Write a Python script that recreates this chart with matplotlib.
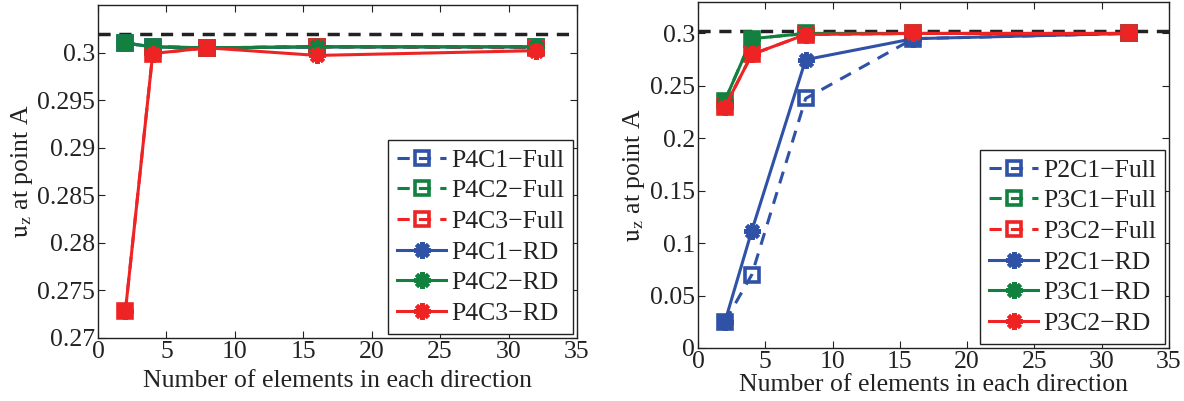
"""Convergence of u_z at point A versus mesh refinement (Full vs RD)."""

import matplotlib
matplotlib.use("Agg")
import matplotlib.pyplot as plt


# mesh sizes (number of elements in each direction)
n_elems = [2, 4, 8, 16, 32]

# reference solution
u_ref = 0.302

# left panel: P4 elements
p4c1_full = [0.3010, 0.3006, 0.3005, 0.3006, 0.3006]
p4c2_full = [0.3010, 0.3006, 0.3005, 0.3006, 0.3006]
p4c3_full = [0.2728, 0.2999, 0.3005, 0.3006, 0.3005]
p4c1_rd = [0.3010, 0.3006, 0.3005, 0.3006, 0.3006]
p4c2_rd = [0.3010, 0.3006, 0.3005, 0.3006, 0.3006]
p4c3_rd = [0.2728, 0.2999, 0.3005, 0.2997, 0.3002]

# right panel: P2/P3 elements
p2c1_full = [0.025, 0.070, 0.238, 0.295, 0.300]
p3c1_full = [0.236, 0.295, 0.300, 0.300, 0.300]
p3c2_full = [0.230, 0.280, 0.299, 0.300, 0.300]
p2c1_rd = [0.025, 0.112, 0.275, 0.295, 0.300]
p3c1_rd = [0.236, 0.295, 0.300, 0.300, 0.300]
p3c2_rd = [0.230, 0.280, 0.299, 0.300, 0.300]

BLUE = "#2f51a6"
GREEN = "#12803f"
RED = "#ee2424"

FONT = 18.5
ASTERISK = (8, 2, 0)

plt.rcParams["font.family"] = "serif"
plt.rcParams["font.serif"] = ["Liberation Serif", "DejaVu Serif"]
plt.rcParams["mathtext.fontset"] = "stix"


def plot_full(ax, y, color, label):
    ax.plot(n_elems, y, linestyle="--", color=color, lw=2.2, marker="s",
            ms=10, mfc="none", mec=color, mew=2.6, label=label, dashes=(4, 3))


def plot_rd(ax, y, color, label):
    ax.plot(n_elems, y, linestyle="-", color=color, lw=2.2, marker=ASTERISK,
            ms=12, mec=color, mew=3, label=label)


def style_axes(ax, xpad):
    ax.axhline(u_ref, color="#222222", lw=2.5, linestyle="--", dashes=(3.5, 2.5), zorder=0)
    ax.set_xlim(0, 35)
    ax.set_xticks(range(0, 36, 5))
    ax.tick_params(direction="in", top=True, right=True, labelsize=FONT,
                   length=5, width=0.8, colors="#222222", pad=2)
    for s in ax.spines.values():
        s.set_linewidth(1.0)
        s.set_color("#222222")
    ax.set_xlabel("Number of elements in each direction", fontsize=FONT,
                  labelpad=xpad, color="#222222")
    ax.set_ylabel(r"$\mathrm{u_z}$ at point A", fontsize=FONT, labelpad=2,
                  color="#222222")


fig = plt.figure(figsize=(11.84, 4.01), dpi=100)

# left panel
ax1 = fig.add_axes([98 / 1184, 1 - 338 / 401, 479 / 1184, 333 / 401])
plot_full(ax1, p4c1_full, BLUE, "P4C1\u2212Full")
plot_full(ax1, p4c2_full, GREEN, "P4C2\u2212Full")
plot_full(ax1, p4c3_full, RED, "P4C3\u2212Full")
plot_rd(ax1, p4c1_rd, BLUE, "P4C1\u2212RD")
plot_rd(ax1, p4c2_rd, GREEN, "P4C2\u2212RD")
plot_rd(ax1, p4c3_rd, RED, "P4C3\u2212RD")
style_axes(ax1, 5)
ax1.set_ylim(0.27, 0.305)
ax1.set_yticks([0.27, 0.275, 0.28, 0.285, 0.29, 0.295, 0.3])
ax1.set_yticklabels(["0.27", "0.275", "0.28", "0.285", "0.29", "0.295", "0.3"])

# right panel
ax2 = fig.add_axes([698 / 1184, 1 - 348 / 401, 471 / 1184, 346 / 401])
plot_full(ax2, p2c1_full, BLUE, "P2C1\u2212Full")
plot_full(ax2, p3c1_full, GREEN, "P3C1\u2212Full")
plot_full(ax2, p3c2_full, RED, "P3C2\u2212Full")
plot_rd(ax2, p2c1_rd, BLUE, "P2C1\u2212RD")
plot_rd(ax2, p3c1_rd, GREEN, "P3C1\u2212RD")
plot_rd(ax2, p3c2_rd, RED, "P3C2\u2212RD")
style_axes(ax2, 1)
ax2.set_ylim(0, 0.33)
ax2.set_yticks([0, 0.05, 0.1, 0.15, 0.2, 0.25, 0.3])
ax2.set_yticklabels(["0", "0.05", "0.1", "0.15", "0.2", "0.25", "0.3"])

for ax in (ax1, ax2):
    leg = ax.legend(loc="lower right", fontsize=FONT, numpoints=1, handlelength=1.9,
                    handletextpad=0.2, labelspacing=0.3, borderpad=0.35,
                    borderaxespad=0.15, fancybox=False, framealpha=1)
    leg.get_frame().set_edgecolor("#222222")
    leg.get_frame().set_linewidth(1.0)
    for t in leg.get_texts():
        t.set_color("#222222")

fig.savefig("out.png", dpi=100)
plt.close(fig)
